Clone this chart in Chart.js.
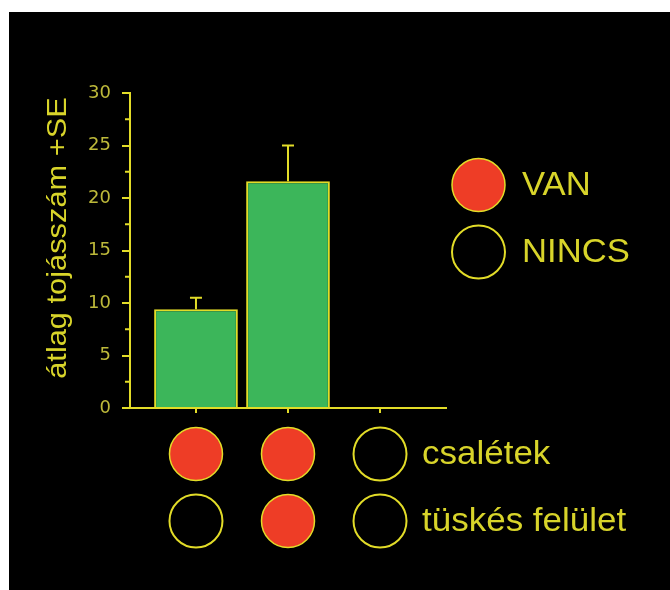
<!DOCTYPE html>
<html>
<head>
<meta charset="utf-8">
<script src="https://cdn.jsdelivr.net/npm/chart.js@4"></script>
<style>
  body { margin: 0; background: #fff; }
  #wrap { position: absolute; left: 9px; top: 12px; width: 661px; height: 578px; background: #000; }
</style>
</head>
<body>
<div id="wrap"><canvas id="chart" width="661" height="578"></canvas></div>
<script>
// data
const categories = [1, 2, 3];
const means = [9.4, 21.6, 0];
const errors = [1.1, 3.4, 0];
const csaletek = [true, true, false];
const tuskes = [false, true, false];
const rowLabels = ['csalétek', 'tüskés felület'];
const keyLabels = ['VAN', 'NINCS'];
const minorTicks = [2.5, 7.5, 12.5, 17.5, 22.5, 27.5];
const yTitle = 'átlag tojásszám +SE';

const yellow = '#e2dc28';
const textYellow = '#d8d42a';
const tickYellow = '#bdb93a';
const green = '#3cb65a';
const red = '#ee3d26';
const font = '"Liberation Sans", Arial, sans-serif';

function circle(ctx, x, y, filled) {
    ctx.beginPath();
    ctx.arc(x, y, 26.5, 0, Math.PI * 2);
    if (filled) {
        ctx.fillStyle = red;
        ctx.fill();
    }
    ctx.lineWidth = filled ? 1.5 : 2;
    ctx.strokeStyle = yellow;
    ctx.stroke();
}

// the original lettering is a bit wider than Liberation Sans
function wideText(ctx, text, x, y, size, stretch) {
    ctx.save();
    ctx.fillStyle = textYellow;
    ctx.font = size + 'px ' + font;
    ctx.textAlign = 'left';
    ctx.textBaseline = 'middle';
    ctx.translate(x, y);
    ctx.scale(stretch, 1);
    ctx.fillText(text, 0, 0);
    ctx.restore();
}

const decor = {
    id: 'decor',
    afterDraw(chart) {
        const ctx = chart.ctx;
        const ca = chart.chartArea;
        const xs = chart.scales.x;
        const ys = chart.scales.y;
        ctx.save();

        // error bars (+SE only)
        ctx.strokeStyle = yellow;
        ctx.lineWidth = 2;
        categories.forEach((c, i) => {
            if (!errors[i]) return;
            const x = xs.getPixelForValue(c);
            const y0 = ys.getPixelForValue(means[i]);
            const y1 = ys.getPixelForValue(means[i] + errors[i]);
            ctx.beginPath();
            ctx.moveTo(x, y0);
            ctx.lineTo(x, y1);
            ctx.moveTo(x - 6, y1);
            ctx.lineTo(x + 6, y1);
            ctx.stroke();
        });

        // minor ticks on y axis
        minorTicks.forEach(v => {
            const y = ys.getPixelForValue(v);
            ctx.beginPath();
            ctx.moveTo(ca.left - 5, y);
            ctx.lineTo(ca.left, y);
            ctx.stroke();
        });

        // y axis title
        ctx.save();
        ctx.fillStyle = textYellow;
        ctx.font = '28px ' + font;
        ctx.textAlign = 'center';
        ctx.textBaseline = 'middle';
        ctx.translate(ca.left - 72, ca.top + 145);
        ctx.rotate(-Math.PI / 2);
        ctx.scale(1.1, 1);
        ctx.fillText(yTitle, 0, 0);
        ctx.restore();

        // treatment matrix under the bars
        const rows = [csaletek, tuskes];
        rows.forEach((row, r) => {
            const y = ca.bottom + 46 + r * 67;
            categories.forEach((c, i) => circle(ctx, xs.getPixelForValue(c), y, row[i]));
            wideText(ctx, rowLabels[r], xs.getPixelForValue(categories[categories.length - 1]) + 42, y + 1, 33, 1.06);
        });

        // key
        keyLabels.forEach((lab, k) => {
            const y = ca.top + 92 + k * 67;
            circle(ctx, ca.right + 32.5, y, k === 0);
            wideText(ctx, lab, ca.right + 76, y + 1, 33, 1.05);
        });

        ctx.restore();
    }
};

new Chart(document.getElementById('chart'), {
    type: 'bar',
    data: {
        datasets: [{
            data: categories.map((c, i) => ({ x: c, y: means[i] })),
            backgroundColor: green,
            borderColor: yellow,
            borderWidth: 2,
            borderSkipped: 'start',
            barPercentage: 0.91,
            categoryPercentage: 1
        }]
    },
    options: {
        responsive: false,
        animation: false,
        layout: { padding: { left: 0, top: 81, right: 224, bottom: 172 } },
        plugins: {
            legend: { display: false },
            tooltip: { enabled: false }
        },
        scales: {
            x: {
                type: 'linear',
                min: 0.283,
                max: 3.717,
                offset: false,
                ticks: { stepSize: 1, includeBounds: false, display: false },
                grid: { offset: false, drawOnChartArea: false, color: yellow, tickLength: 5, lineWidth: 2 },
                border: { color: yellow, width: 2 },
                afterFit: s => { s.height = 10; }
            },
            y: {
                min: 0,
                max: 30,
                ticks: { stepSize: 5, color: tickYellow, font: { family: '"DejaVu Sans"', size: 18 }, padding: 11 },
                grid: { drawOnChartArea: false, color: yellow, tickLength: 8, lineWidth: 2 },
                border: { color: yellow, width: 2 },
                afterFit: s => { s.width = 121; }
            }
        }
    },
    plugins: [decor]
});
</script>
</body>
</html>
